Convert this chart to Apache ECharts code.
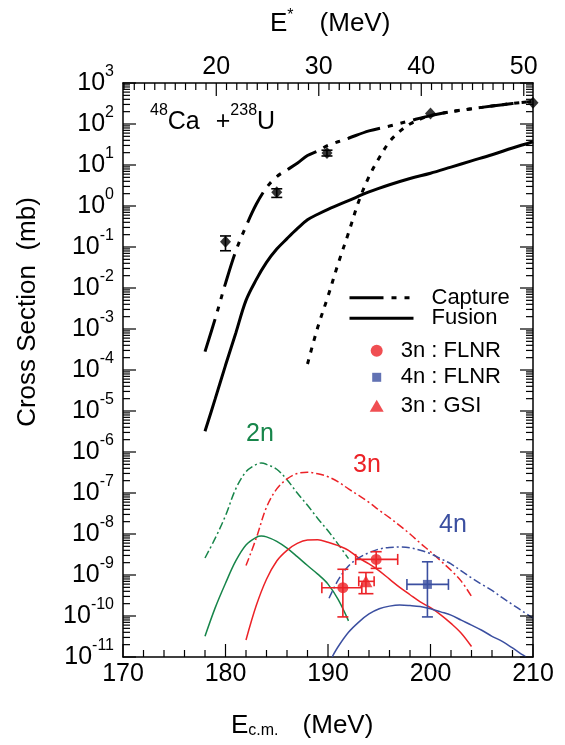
<!DOCTYPE html>
<html>
<head>
<meta charset="utf-8">
<script src="https://cdn.jsdelivr.net/npm/echarts@6/dist/echarts.min.js"></script>
<style>
  html, body { margin: 0; padding: 0; background: #fff; }
  #chart { width: 565px; height: 745px; }
</style>
</head>
<body>
<div id="chart"></div>
<script>
// 48Ca + 238U : capture / fusion cross sections and xn evaporation residues (mb)

// Capture (dash-dot-dot) and fusion (solid) curves
const ecmCapture = [178, 179, 180, 181, 182, 183, 184, 185, 186, 187, 188, 189, 190, 192, 194, 196, 198, 200, 202, 204, 206, 208, 210];
const capture    = [2.8e-4, 1.8e-3, 1.3e-2, 7.9e-2, 0.32, 1.1, 2.8, 5.2, 7.6, 11, 17, 22, 30, 45, 68, 89, 120, 160, 200, 235, 275, 316, 355];
const ecmFusion  = [178, 179, 180, 181, 182, 183, 184, 185, 186, 187, 188, 189, 190, 192, 194, 196, 198, 200, 202, 204, 206, 208, 210];
const fusion     = [3.2e-6, 2.0e-5, 1.3e-4, 7.9e-4, 5.0e-3, 1.6e-2, 4.2e-2, 8.9e-2, 0.16, 0.28, 0.46, 0.63, 0.83, 1.35, 2.2, 3.3, 4.7, 6.3, 8.9, 12.6, 17.8, 26, 37];
// Dotted curve
const ecmDotted  = [188, 189, 190, 191, 192, 193, 194, 195, 196, 197, 198, 199, 200, 202, 204, 206, 208, 210];
const dotted     = [1.4e-4, 1.1e-3, 6.3e-3, 4.0e-2, 0.22, 1.3, 5.2, 15, 37, 66, 100, 132, 160, 200, 235, 275, 316, 355];

// 2n channel: dash-dot (upper) and solid (lower)
const ecm2n      = [178, 179, 180, 181, 182, 183, 183.5, 184, 185, 186, 187, 188, 189, 190, 191, 192];
const evr2nUpper = [2.6e-9, 7.9e-9, 2.8e-8, 1.26e-7, 3.3e-7, 5.0e-7, 5.4e-7, 5.0e-7, 3.8e-7, 2.1e-7, 1.0e-7, 5.0e-8, 2.4e-8, 1.2e-8, 5.6e-9, 2.5e-9];
const evr2nLower = [3.2e-11, 1.6e-10, 6.3e-10, 2.2e-9, 5.4e-9, 8.3e-9, 8.9e-9, 8.5e-9, 6.6e-9, 4.5e-9, 2.8e-9, 1.7e-9, 1.05e-9, 6.0e-10, 2.5e-10, 7.6e-11];

// 3n channel
const ecm3n      = [182, 183, 184, 185, 186, 187, 188, 189, 190, 191, 192, 193, 194, 195, 196, 197, 198, 199, 200, 201, 202, 203, 204];
const evr3nUpper = [1.7e-9, 7.9e-9, 4.5e-8, 1.26e-7, 2.2e-7, 3.0e-7, 3.2e-7, 2.95e-7, 2.5e-7, 1.86e-7, 1.26e-7, 8.7e-8, 5.9e-8, 3.8e-8, 2.5e-8, 1.6e-8, 1.0e-8, 6.0e-9, 3.7e-9, 2.2e-9, 1.3e-9, 7.1e-10, 3.0e-10];
const evr3nLower = [2.6e-11, 1.8e-10, 7.9e-10, 2.2e-9, 4.0e-9, 5.9e-9, 7.1e-9, 7.2e-9, 6.3e-9, 5.2e-9, 4.0e-9, 2.6e-9, 1.86e-9, 1.26e-9, 7.9e-10, 5.0e-10, 3.3e-10, 2.2e-10, 1.6e-10, 1.07e-10, 6.6e-11, 3.8e-11, 1.8e-11];

// 4n channel
const ecm4nUpper = [190.1, 191, 192, 193, 194, 195, 196, 197, 198, 199, 200, 201, 202, 203, 204, 205, 206, 207, 208, 209, 210];
const evr4nUpper = [2.7e-10, 7.6e-10, 1.66e-9, 2.6e-9, 3.5e-9, 4.3e-9, 4.7e-9, 4.8e-9, 4.6e-9, 4.0e-9, 3.3e-9, 2.5e-9, 1.86e-9, 1.26e-9, 8.5e-10, 5.9e-10, 4.2e-10, 2.8e-10, 1.9e-10, 1.3e-10, 8.9e-11];
const ecm4nLower = [190.4, 191, 192, 193, 194, 195, 196, 197, 198, 199, 200, 201, 202, 203, 204, 205, 206, 207, 208, 209, 209.3];
const evr4nLower = [1.0e-11, 1.8e-11, 4.0e-11, 7.1e-11, 1.12e-10, 1.5e-10, 1.74e-10, 1.86e-10, 1.8e-10, 1.7e-10, 1.5e-10, 1.26e-10, 1.05e-10, 7.9e-11, 6.0e-11, 4.5e-11, 3.2e-11, 2.4e-11, 1.66e-11, 1.12e-11, 1.0e-11];

// Measured capture cross sections (diamonds) with vertical errors
const capExpE     = [180.0, 185.0, 189.9, 200.0, 210.0];
const capExpSigma = [0.135, 2.15, 19.6, 180, 330];
const capExpLow   = [0.081, 1.62, 16.6, 180, 330];
const capExpHigh  = [0.186, 2.63, 23, 180, 330];

// 3n : FLNR (circles)
const flnr3nE     = [191.45, 194.7];
const flnr3nELow  = [189.4, 192.7];
const flnr3nEHigh = [193.3, 196.8];
const flnr3nSigma = [4.9e-10, 2.4e-9];
const flnr3nLow   = [9.5e-11, 1.45e-9];
const flnr3nHigh  = [1.38e-9, 3.7e-9];

// 4n : FLNR (square)
const flnr4nE     = [199.7];
const flnr4nELow  = [197.7];
const flnr4nEHigh = [201.75];
const flnr4nSigma = [5.9e-10];
const flnr4nLow   = [9.5e-11];
const flnr4nHigh  = [2.1e-9];

// 3n : GSI (triangle)
const gsi3nE      = [193.7];
const gsi3nELow   = [193.0];
const gsi3nEHigh  = [194.5];
const gsi3nSigma  = [7.0e-10];
const gsi3nLow    = [3.5e-10];
const gsi3nHigh   = [1.15e-9];

// Axis ranges and tick values
const ECM_MIN = 170, ECM_MAX = 210;
const SIG_MIN = 1e-11, SIG_MAX = 1e3;
const ecmMajor      = [170, 180, 190, 200, 210];
const ecmMinor      = [172, 174, 176, 178, 182, 184, 186, 188, 192, 194, 196, 198, 202, 204, 206, 208];
const estarMajor    = [20, 30, 40, 50];
const estarMinor    = [];
for (let k = 11; k <= 50; k++) if (k % 10) estarMinor.push(k);
const E_STAR_OFFSET = 159.1;           // E* = Ecm - 159.1 MeV
const decadeExps    = [-11, -10, -9, -8, -7, -6, -5, -4, -3, -2, -1, 0, 1, 2, 3];
const decades       = decadeExps.map(e => Number('1e' + e));
const minorDecades  = [];
decadeExps.slice(0, -1).forEach(e => { for (let k = 2; k <= 9; k++) minorDecades.push(Number(k + 'e' + e)); });

const FONT  = '"Liberation Sans", Arial, Helvetica, sans-serif';
const RED   = '#ec2227';
const GREEN = '#17854a';
const BLUE  = '#3b4fa0';
const BLACK = '#000';
const captureDash = [34, 8, 5, 8, 5, 8];
const MAJOR_LEN = 13, MINOR_LEN = 7;

const pairs = (xs, ys) => xs.map((x, i) => [x, ys[i]]);
const errRows = (x, xl, xh, y, yl, yh) => x.map((v, i) => [v, y[i], xl ? xl[i] : v, xh ? xh[i] : v, yl[i], yh[i]]);

// Inward tick marks on the frame: [Ecm, sigma, side (0 left, 1 right, 2 bottom, 3 top), major flag]
const SIDE_LEFT = 0, SIDE_RIGHT = 1, SIDE_BOTTOM = 2, SIDE_TOP = 3;
const tickRows = [];
decades.forEach(v => { tickRows.push([ECM_MIN, v, SIDE_LEFT, 1], [ECM_MAX, v, SIDE_RIGHT, 1]); });
minorDecades.forEach(v => { tickRows.push([ECM_MIN, v, SIDE_LEFT, 0], [ECM_MAX, v, SIDE_RIGHT, 0]); });
ecmMajor.forEach(v => tickRows.push([v, SIG_MIN, SIDE_BOTTOM, 1]));
ecmMinor.forEach(v => tickRows.push([v, SIG_MIN, SIDE_BOTTOM, 0]));
estarMajor.forEach(e => tickRows.push([e + E_STAR_OFFSET, SIG_MAX, SIDE_TOP, 1]));
estarMinor.forEach(e => tickRows.push([e + E_STAR_OFFSET, SIG_MAX, SIDE_TOP, 0]));

function renderTick(params, api) {
  const p = api.coord([api.value(0), api.value(1)]);
  const side = api.value(2);
  const len = api.value(3) ? MAJOR_LEN : MINOR_LEN;
  let dx = 0, dy = 0;
  if (side === SIDE_LEFT) dx = len;
  else if (side === SIDE_RIGHT) dx = -len;
  else if (side === SIDE_BOTTOM) dy = -len;
  else dy = len;
  return {
    type: 'line',
    shape: { x1: p[0], y1: p[1], x2: p[0] + dx, y2: p[1] + dy },
    style: { stroke: BLACK, lineWidth: 1.2 }
  };
}

function errorBars(color, capW, capH) {
  return function (params, api) {
    const x = api.value(0), y = api.value(1);
    const xl = api.value(2), xh = api.value(3), yl = api.value(4), yh = api.value(5);
    const c = api.coord([x, y]);
    const style = { stroke: color, lineWidth: 1.6, fill: null };
    const kids = [];
    if (yl !== yh) {
      const t = api.coord([x, yh]), b = api.coord([x, yl]);
      kids.push({ type: 'line', shape: { x1: c[0], y1: t[1], x2: c[0], y2: b[1] }, style });
      kids.push({ type: 'line', shape: { x1: c[0] - capW / 2, y1: t[1], x2: c[0] + capW / 2, y2: t[1] }, style });
      kids.push({ type: 'line', shape: { x1: c[0] - capW / 2, y1: b[1], x2: c[0] + capW / 2, y2: b[1] }, style });
    }
    if (xl !== xh) {
      const l = api.coord([xl, y]), r = api.coord([xh, y]);
      kids.push({ type: 'line', shape: { x1: l[0], y1: c[1], x2: r[0], y2: c[1] }, style });
      kids.push({ type: 'line', shape: { x1: l[0], y1: c[1] - capH / 2, x2: l[0], y2: c[1] + capH / 2 }, style });
      kids.push({ type: 'line', shape: { x1: r[0], y1: c[1] - capH / 2, x2: r[0], y2: c[1] + capH / 2 }, style });
    }
    return { type: 'group', children: kids };
  };
}

function curve(name, xs, ys, color, width, type, z) {
  return {
    name, type: 'line', data: pairs(xs, ys), showSymbol: false, symbol: 'none',
    smooth: 0.35, z: z || 2, silent: true,
    lineStyle: { color, width, type, cap: 'butt' }, itemStyle: { color }
  };
}

function frameLine() { return { show: true, lineStyle: { color: BLACK, width: 1.5 } }; }

function logAxis(position, withLabels) {
  const ax = {
    type: 'log', logBase: 10, min: SIG_MIN, max: SIG_MAX, position, gridIndex: 0,
    axisLine: frameLine(),
    axisTick: { show: false },
    splitLine: { show: false },
    axisLabel: { show: false }
  };
  if (withLabels) {
    ax.axisLabel = {
      show: true, customValues: decades, margin: 9,
      formatter: v => '{b|10}{s|' + Math.round(Math.log10(v)) + '}',
      rich: {
        b: { fontSize: 25, fontFamily: FONT, color: BLACK },
        s: { fontSize: 16, fontFamily: FONT, color: BLACK, padding: [0, 0, 22, 0] }
      }
    };
  }
  return ax;
}

function legendItem(name, left, top, w, h, textPad, lineStyle) {
  const l = {
    data: [name], left, top, orient: 'vertical', padding: 0, itemGap: 0,
    itemWidth: w, itemHeight: h, selectedMode: false,
    textStyle: { fontSize: 22, lineHeight: 22, fontFamily: FONT, color: BLACK, padding: [0, 0, 0, textPad] }
  };
  if (lineStyle) {
    l.lineStyle = lineStyle;
    l.itemStyle = { opacity: 0 };
  }
  return l;
}

const supRich = {
  m: { fontSize: 25, fontFamily: FONT, fill: BLACK },
  s: { fontSize: 16, fontFamily: FONT, fill: BLACK, padding: [0, 0, 22, 0] },
  p: { fontSize: 25, fontFamily: FONT, fill: BLACK, padding: [0, 0, 0, 16] }
};

const option = {
  animation: false,
  backgroundColor: '#fff',
  grid: { left: 123, top: 83, width: 410, height: 574 },
  xAxis: [
    {
      type: 'value', min: ECM_MIN, max: ECM_MAX, interval: 10, position: 'bottom',
      axisLine: frameLine(),
      axisTick: { show: false },
      axisLabel: { fontSize: 25, fontFamily: FONT, color: BLACK, margin: 5 },
      splitLine: { show: false }
    },
    {
      type: 'value', min: ECM_MIN, max: ECM_MAX, position: 'top',
      axisLine: frameLine(),
      axisTick: { show: false },
      axisLabel: {
        customValues: estarMajor.map(e => e + E_STAR_OFFSET),
        formatter: v => String(Math.round(v - E_STAR_OFFSET)),
        fontSize: 25, fontFamily: FONT, color: BLACK, margin: 3
      },
      splitLine: { show: false }
    }
  ],
  yAxis: [
    logAxis('left', true),
    logAxis('right', false)
  ],
  legend: [
    legendItem('Capture', 348, 286.7, 64, 14, 13, { width: 3, type: captureDash, color: BLACK }),
    legendItem('Fusion', 348, 307.3, 64, 14, 13, { width: 3, type: 'solid', color: BLACK }),
    legendItem('3n : FLNR', 370.7, 339.7, 12, 12, 13),
    legendItem('4n : FLNR', 372.2, 366.3, 9, 9, 14.5),
    legendItem('3n : GSI', 369.7, 394.7, 14, 12, 12)
  ],
  series: [
    curve('Capture', ecmCapture, capture, BLACK, 3, captureDash, 3),
    curve('Fusion', ecmFusion, fusion, BLACK, 3, 'solid', 3),
    curve('dotted', ecmDotted, dotted, BLACK, 3, [5, 7], 3),
    curve('2n upper', ecm2n, evr2nUpper, GREEN, 1.5, [8, 3, 2, 3]),
    curve('2n lower', ecm2n, evr2nLower, GREEN, 1.5, 'solid'),
    curve('3n upper', ecm3n, evr3nUpper, RED, 1.5, [8, 3, 2, 3]),
    curve('3n lower', ecm3n, evr3nLower, RED, 1.5, 'solid'),
    curve('4n upper', ecm4nUpper, evr4nUpper, BLUE, 1.5, [8, 3, 2, 3]),
    curve('4n lower', ecm4nLower, evr4nLower, BLUE, 1.5, 'solid'),
    {
      type: 'custom', z: 6, silent: true,
      renderItem: renderTick, data: tickRows, encode: { x: 0, y: 1 }
    },
    {
      type: 'custom', z: 4, silent: true, renderItem: errorBars(BLACK, 11, 0),
      data: errRows(capExpE, null, null, capExpSigma, capExpLow, capExpHigh), encode: { x: 0, y: 1 }
    },
    {
      type: 'custom', z: 4, silent: true, renderItem: errorBars(RED, 11, 11),
      data: errRows(flnr3nE, flnr3nELow, flnr3nEHigh, flnr3nSigma, flnr3nLow, flnr3nHigh), encode: { x: 0, y: 1 }
    },
    {
      type: 'custom', z: 4, silent: true, renderItem: errorBars(BLUE, 11, 11),
      data: errRows(flnr4nE, flnr4nELow, flnr4nEHigh, flnr4nSigma, flnr4nLow, flnr4nHigh), encode: { x: 0, y: 1 }
    },
    {
      type: 'custom', z: 4, silent: true, renderItem: errorBars(RED, 15, 10),
      data: errRows(gsi3nE, gsi3nELow, gsi3nEHigh, gsi3nSigma, gsi3nLow, gsi3nHigh), encode: { x: 0, y: 1 }
    },
    {
      name: 'capture data', type: 'scatter', z: 5, clip: false, silent: true,
      symbol: 'diamond', symbolSize: [11, 12], itemStyle: { color: BLACK },
      data: pairs(capExpE, capExpSigma)
    },
    {
      name: '3n : FLNR', type: 'scatter', z: 5, clip: false, silent: true,
      symbol: 'circle', symbolSize: 11, itemStyle: { color: RED },
      data: pairs(flnr3nE, flnr3nSigma)
    },
    {
      name: '4n : FLNR', type: 'scatter', z: 5, clip: false, silent: true,
      symbol: 'rect', symbolSize: 9, itemStyle: { color: BLUE },
      data: pairs(flnr4nE, flnr4nSigma)
    },
    {
      name: '3n : GSI', type: 'scatter', z: 5, clip: false, silent: true,
      symbol: 'triangle', symbolSize: [13, 12], itemStyle: { color: RED },
      data: pairs(gsi3nE, gsi3nSigma)
    }
  ],
  graphic: [
    {
      type: 'text', x: 150, y: 122, silent: true,
      style: {
        text: '{s|48}{m|Ca}{p|+}{s|238}{m|U}', rich: supRich,
        align: 'left', verticalAlign: 'middle'
      }
    },
    {
      type: 'text', x: 270, y: 24, silent: true,
      style: {
        text: '{m|E}{s|*}{p|(MeV)}', align: 'left', verticalAlign: 'middle',
        rich: {
          m: { fontSize: 26, fontFamily: FONT, fill: BLACK },
          s: { fontSize: 16, fontFamily: FONT, fill: BLACK, padding: [0, 0, 16, 0] },
          p: { fontSize: 26, fontFamily: FONT, fill: BLACK, padding: [0, 0, 0, 26] }
        }
      }
    },
    {
      type: 'text', x: 231, y: 726, silent: true,
      style: {
        text: '{m|E}{b|c.m.}{p|(MeV)}', align: 'left', verticalAlign: 'middle',
        rich: {
          m: { fontSize: 26, fontFamily: FONT, fill: BLACK },
          b: { fontSize: 16, fontFamily: FONT, fill: BLACK, padding: [9, 0, 0, 0] },
          p: { fontSize: 26, fontFamily: FONT, fill: BLACK, padding: [0, 0, 0, 24] }
        }
      }
    },
    {
      type: 'text', x: 28, y: 312, rotation: Math.PI / 2, silent: true,
      style: { text: 'Cross Section  (mb)', fontSize: 26, fontFamily: FONT, fill: BLACK, align: 'center', verticalAlign: 'middle' }
    },
    { type: 'text', x: 260, y: 434, silent: true, style: { text: '2n', fontSize: 25, fontFamily: FONT, fill: GREEN, align: 'center', verticalAlign: 'middle' } },
    { type: 'text', x: 367, y: 465, silent: true, style: { text: '3n', fontSize: 25, fontFamily: FONT, fill: RED, align: 'center', verticalAlign: 'middle' } },
    { type: 'text', x: 453, y: 525, silent: true, style: { text: '4n', fontSize: 25, fontFamily: FONT, fill: BLUE, align: 'center', verticalAlign: 'middle' } }
  ]
};

const chart = echarts.init(document.getElementById('chart'), null, { renderer: 'canvas' });
chart.setOption(option);
</script>
</body>
</html>
